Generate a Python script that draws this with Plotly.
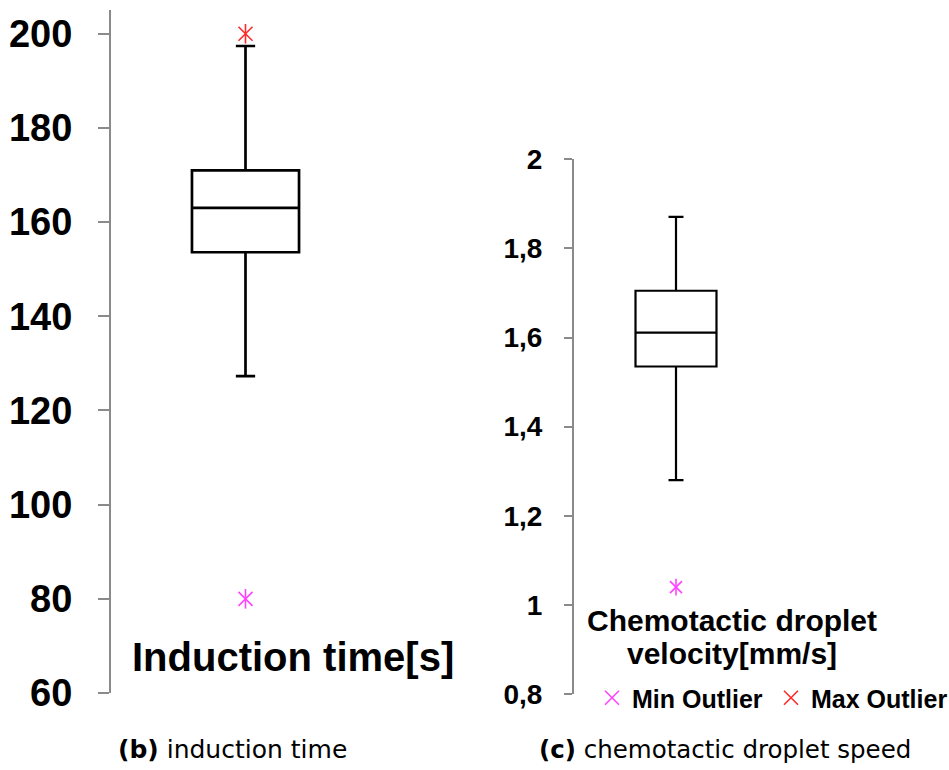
import plotly.graph_objects as go

# Panel (b): induction time [s]
ind_q1, ind_median, ind_q3 = 153.6, 163.0, 171.0
ind_lower, ind_upper = 127.3, 197.4
ind_min_outlier = [80.0]
ind_max_outlier = [200.0]
ind_tickvals = [60, 80, 100, 120, 140, 160, 180, 200]
ind_ticktext = ["60", "80", "100", "120", "140", "160", "180", "200"]

# Panel (c): chemotactic droplet velocity [mm/s]
vel_q1, vel_median, vel_q3 = 1.535, 1.611, 1.705
vel_lower, vel_upper = 1.28, 1.871
vel_min_outlier = [1.04]
vel_tickvals = [0.8, 1.0, 1.2, 1.4, 1.6, 1.8, 2.0]
vel_ticktext = ["0,8", "1", "1,2", "1,4", "1,6", "1,8", "2"]

W, H = 949, 770
MIN_COLOR = "#ff44ff"
MAX_COLOR = "#ff2a2a"
AXIS_GREY = "#8a8a8a"
BOLD = dict(family="Liberation Sans, Arial, sans-serif", weight="bold", color="black")

fig = go.Figure()

# box plots from precomputed statistics
fig.add_trace(go.Box(
    x=[0.5], q1=[ind_q1], median=[ind_median], q3=[ind_q3],
    lowerfence=[ind_lower], upperfence=[ind_upper],
    width=0.398, whiskerwidth=0.18, fillcolor="rgba(0,0,0,0)",
    line=dict(color="black", width=2.7), boxpoints=False,
    xaxis="x", yaxis="y", showlegend=False, hoverinfo="skip"))
fig.add_trace(go.Box(
    x=[0.5], q1=[vel_q1], median=[vel_median], q3=[vel_q3],
    lowerfence=[vel_lower], upperfence=[vel_upper],
    width=0.397, whiskerwidth=0.185, fillcolor="rgba(0,0,0,0)",
    line=dict(color="black", width=2.2), boxpoints=False,
    xaxis="x2", yaxis="y2", showlegend=False, hoverinfo="skip"))


def outlier(values, color, size, xa, ya, name=None):
    """Six-armed asterisk: thin X plus a vertical stroke."""
    for sym, leg in (("x-thin-open", name is not None), ("line-ns-open", False)):
        fig.add_trace(go.Scatter(
            x=[0.5] * len(values), y=values, mode="markers",
            marker=dict(symbol=sym, size=size, color=color,
                        line=dict(color=color, width=1.6)),
            xaxis=xa, yaxis=ya, name=name or "", showlegend=leg,
            hoverinfo="skip"))


outlier(ind_min_outlier, MIN_COLOR, 14, "x", "y", "Min Outlier")
outlier(ind_max_outlier, MAX_COLOR, 14, "x", "y", "Max Outlier")
outlier(vel_min_outlier, MIN_COLOR, 12, "x2", "y2")

yax_common = dict(showline=True, linecolor=AXIS_GREY, linewidth=2,
                  ticks="outside", tickcolor=AXIS_GREY, tickwidth=2,
                  showgrid=False, zeroline=False, tickmode="array",
                  automargin=False)

fig.update_layout(
    width=W, height=H,
    margin=dict(l=0, r=0, t=0, b=0, autoexpand=False),
    paper_bgcolor="white", plot_bgcolor="rgba(0,0,0,0)",
    xaxis=dict(domain=[111 / W, 380 / W], range=[0, 1], visible=False),
    xaxis2=dict(domain=[574 / W, 778 / W], range=[0, 1], visible=False),
    yaxis=dict(domain=[(H - 693) / H, (H - 10) / H], range=[60, 205.04],
               tickvals=ind_tickvals, ticktext=ind_ticktext, ticklen=11,
               ticklabelstandoff=18, tickfont=dict(size=38, **BOLD),
               anchor="x", **yax_common),
    yaxis2=dict(domain=[(H - 694) / H, (H - 159.3) / H], range=[0.8, 2.0],
                tickvals=vel_tickvals, ticktext=vel_ticktext, ticklen=8,
                ticklabelstandoff=16, tickfont=dict(size=28, **BOLD),
                anchor="x2", **yax_common),
    showlegend=True,
    legend=dict(orientation="h", x=592 / W, y=(H - 698) / H,
                xanchor="left", yanchor="middle", bgcolor="rgba(0,0,0,0)",
                font=dict(size=25, **BOLD), entrywidth=134,
                itemclick=False, itemdoubleclick=False),
)

# axis titles placed inside each panel
fig.add_annotation(text="Induction time[s]", x=293 / W, y=(H - 657) / H,
                   xref="paper", yref="paper", showarrow=False,
                   xanchor="center", yanchor="middle",
                   font=dict(size=40, **BOLD))
for line, yc in (("Chemotactic droplet", 620), ("velocity[mm/s]", 653)):
    fig.add_annotation(text=line, x=732 / W, y=(H - yc) / H,
                       xref="paper", yref="paper", showarrow=False,
                       xanchor="center", yanchor="middle",
                       font=dict(size=30, **BOLD))

# sub-figure captions
CAP = dict(family="DejaVu Sans, sans-serif", size=25, color="black")
fig.add_annotation(text="<b>(b)</b> induction time", x=232 / W, y=(H - 749) / H,
                   xref="paper", yref="paper", showarrow=False,
                   xanchor="center", yanchor="middle", font=CAP)
fig.add_annotation(text="<b>(c)</b> chemotactic droplet speed", x=725 / W,
                   y=(H - 749) / H, xref="paper", yref="paper", showarrow=False,
                   xanchor="center", yanchor="middle",
                   font=dict(CAP, size=24.5))

fig.write_html("out.html")
